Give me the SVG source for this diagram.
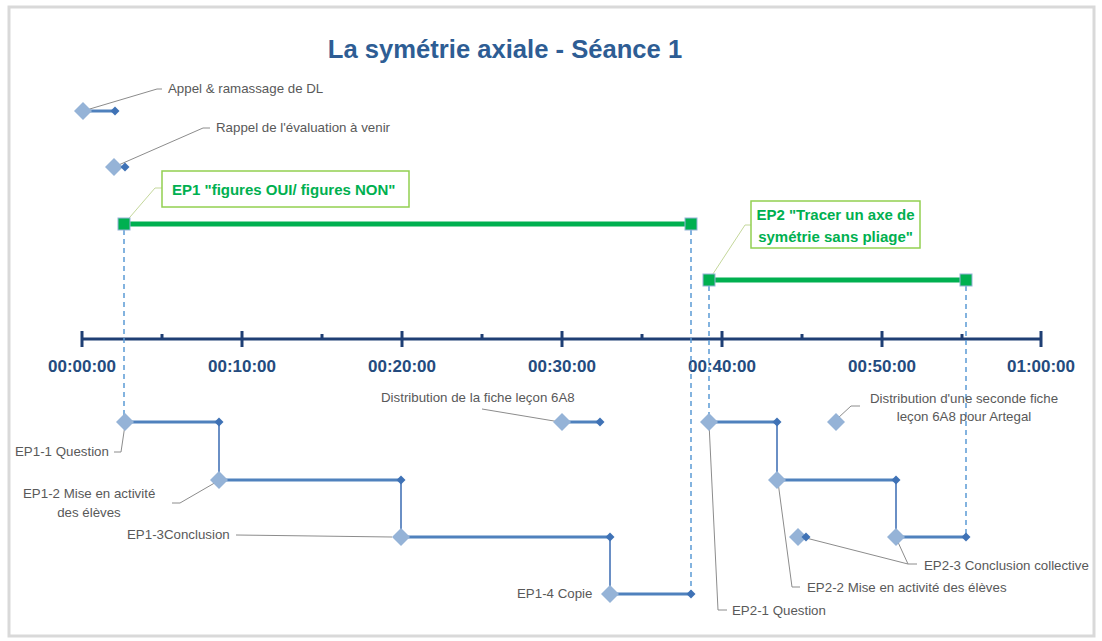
<svg xmlns="http://www.w3.org/2000/svg" width="1102" height="641" viewBox="0 0 1102 641">
<style>
.t{font-family:"Liberation Sans",Arial,sans-serif;font-size:13.3px;fill:#595959}
.ax{font-family:"Liberation Sans",Arial,sans-serif;font-size:17px;font-weight:bold;fill:#244B7E;text-anchor:middle}
.ep{font-family:"Liberation Sans",Arial,sans-serif;font-size:15px;font-weight:bold;fill:#00B050}
.bar{stroke:#4F81BD;stroke-width:3;fill:none}
.vc{stroke:#6A8FC5;stroke-width:2;fill:none}
.lead{stroke:#8C8C8C;stroke-width:1;fill:none}
.dash{stroke:#5B9BD5;stroke-width:1.5;stroke-dasharray:5,4;fill:none}
.gbar{stroke:#00B050;stroke-width:5}
.sq{fill:#00B050;stroke:#95B3D7;stroke-width:1}
.big{fill:#95B3D7}
.sm{fill:#3F72B6}
</style>
<defs>
<path id="bd" d="M0,-9 L9,0 L0,9 L-9,0 Z"/>
<path id="sd" d="M0,-4.5 L4.5,0 L0,4.5 L-4.5,0 Z"/>
</defs>
<rect x="0" y="0" width="1102" height="641" fill="#fff"/>
<rect x="9" y="7" width="1085" height="629" fill="#fff" stroke="#D9D9D9" stroke-width="3"/>
<text x="505" y="58" text-anchor="middle" font-family="'Liberation Sans',Arial,sans-serif" font-size="25.6" font-weight="bold" fill="#2E5D94">La symétrie axiale - Séance 1</text>

<g id="axis">
<line x1="82" y1="339" x2="1041" y2="339" stroke="#1F3F74" stroke-width="3"/>
<g stroke="#1F3F74" stroke-width="3">
<line x1="82" y1="331" x2="82" y2="347"/><line x1="242" y1="331" x2="242" y2="347"/><line x1="402" y1="331" x2="402" y2="347"/><line x1="562" y1="331" x2="562" y2="347"/><line x1="722" y1="331" x2="722" y2="347"/><line x1="882" y1="331" x2="882" y2="347"/><line x1="1041" y1="331" x2="1041" y2="347"/>
<line x1="162" y1="334" x2="162" y2="339"/><line x1="322" y1="334" x2="322" y2="339"/><line x1="482" y1="334" x2="482" y2="339"/><line x1="642" y1="334" x2="642" y2="339"/><line x1="802" y1="334" x2="802" y2="339"/><line x1="962" y1="334" x2="962" y2="339"/>
</g>
<text class="ax" x="82" y="372">00:00:00</text><text class="ax" x="242" y="372">00:10:00</text><text class="ax" x="402" y="372">00:20:00</text><text class="ax" x="562" y="372">00:30:00</text><text class="ax" x="722" y="372">00:40:00</text><text class="ax" x="882" y="372">00:50:00</text><text class="ax" x="1041" y="372">01:00:00</text>
</g>

<g id="connectors">
<line class="dash" x1="124" y1="230" x2="124" y2="422"/>
<line class="dash" x1="691" y1="230" x2="691" y2="594"/>
<line class="dash" x1="709" y1="286" x2="709" y2="422"/>
<line class="dash" x1="966" y1="286" x2="966" y2="537"/>
<polyline class="lead" points="83,111 157,89 162,89"/>
<polyline class="lead" points="114,167 203,128 210,128"/>
<polyline points="124,224 155,188 162,188" fill="none" stroke="#C4D79B" stroke-width="1"/>
<polyline points="709,280 745,225 751,225" fill="none" stroke="#C4D79B" stroke-width="1"/>
<polyline class="lead" points="125,425 121,452 114,452"/>
<polyline class="lead" points="218,481 180,503 172,503"/>
<polyline class="lead" points="236,535 392,537"/>
<polyline class="lead" points="482,409 560,422"/>
<polyline class="lead" points="838,418 851,406 860,406"/>
<polyline class="lead" points="709,423 718,610 727,610"/>
<polyline class="lead" points="778,482 792,587 800,587"/>
<polyline class="lead" points="806,538 908,564 917,564"/>
<polyline class="lead" points="897,540 908,564"/>
</g>

<g id="n-appel"><line class="bar" x1="83" y1="111" x2="115" y2="111"/><use href="#bd" x="83" y="111" class="big"/><use href="#sd" x="115" y="111" class="sm"/><text class="t" x="168" y="93">Appel &amp; ramassage de DL</text></g>
<g id="n-rappel"><use href="#bd" x="114" y="167" class="big"/><use href="#sd" x="125" y="167" class="sm"/><text class="t" x="216" y="132">Rappel de l'évaluation à venir</text></g>

<g id="n-ep1"><line class="gbar" x1="124" y1="224" x2="691" y2="224"/><rect class="sq" x="118" y="218" width="12" height="12"/><rect class="sq" x="685" y="218" width="12" height="12"/>
<rect x="162" y="171" width="247" height="36" fill="#fff" stroke="#92D050" stroke-width="1.5"/><text class="ep" x="172" y="195">EP1 "figures OUI/ figures NON"</text></g>
<g id="n-ep2"><line class="gbar" x1="709" y1="280" x2="966" y2="280"/><rect class="sq" x="703" y="274" width="12" height="12"/><rect class="sq" x="960" y="274" width="12" height="12"/>
<rect x="751" y="201" width="169" height="47" fill="#fff" stroke="#92D050" stroke-width="1.5"/><text class="ep" x="835.5" y="220" text-anchor="middle">EP2 "Tracer un axe de</text><text class="ep" x="835.5" y="242" text-anchor="middle">symétrie sans pliage"</text></g>

<g id="n-ep1-1"><line class="bar" x1="125" y1="422" x2="219" y2="422"/><line class="vc" x1="219" y1="422" x2="219" y2="480"/><use href="#bd" x="125" y="422" class="big"/><use href="#sd" x="219" y="422" class="sm"/><text class="t" x="15" y="456">EP1-1 Question</text></g>
<g id="n-ep1-2"><line class="bar" x1="219" y1="480" x2="401" y2="480"/><line class="vc" x1="401" y1="480" x2="401" y2="537"/><use href="#bd" x="219" y="480" class="big"/><use href="#sd" x="401" y="480" class="sm"/><text class="t" x="23" y="498">EP1-2 Mise en activité</text><text class="t" x="89" y="517" text-anchor="middle">des élèves</text></g>
<g id="n-ep1-3"><line class="bar" x1="401" y1="537" x2="610" y2="537"/><line class="vc" x1="610" y1="537" x2="610" y2="594"/><use href="#bd" x="401" y="537" class="big"/><use href="#sd" x="610" y="537" class="sm"/><text class="t" x="127" y="539">EP1-3Conclusion</text></g>
<g id="n-ep1-4"><line class="bar" x1="610" y1="594" x2="691" y2="594"/><use href="#bd" x="610" y="594" class="big"/><use href="#sd" x="691" y="594" class="sm"/><text class="t" x="517" y="598">EP1-4 Copie</text></g>
<g id="n-distrib"><line class="bar" x1="562" y1="422" x2="600" y2="422"/><use href="#bd" x="562" y="422" class="big"/><use href="#sd" x="600" y="422" class="sm"/><text class="t" x="381" y="402">Distribution de la fiche leçon 6A8</text></g>

<g id="n-ep2-1"><line class="bar" x1="709" y1="422" x2="777" y2="422"/><line class="vc" x1="777" y1="422" x2="777" y2="480"/><use href="#bd" x="709" y="422" class="big"/><use href="#sd" x="777" y="422" class="sm"/><text class="t" x="732" y="615">EP2-1 Question</text></g>
<g id="n-ep2-2"><line class="bar" x1="777" y1="480" x2="896" y2="480"/><line class="vc" x1="896" y1="480" x2="896" y2="537"/><use href="#bd" x="777" y="480" class="big"/><use href="#sd" x="896" y="480" class="sm"/><text class="t" x="807" y="592">EP2-2 Mise en activité  des élèves</text></g>
<g id="n-ep2-3"><line class="bar" x1="896" y1="537" x2="966" y2="537"/><use href="#bd" x="896" y="537" class="big"/><use href="#sd" x="966" y="537" class="sm"/><text class="t" x="924" y="570">EP2-3 Conclusion collective</text></g>
<g id="n-ep2-x"><use href="#bd" x="798" y="537" class="big"/><use href="#sd" x="806" y="537" class="sm"/></g>
<g id="n-distrib2"><use href="#bd" x="836" y="422" class="big"/><text class="t" x="964" y="403" text-anchor="middle">Distribution d'une seconde fiche</text><text class="t" x="964" y="421" text-anchor="middle">leçon 6A8 pour Artegal</text></g>
</svg>
